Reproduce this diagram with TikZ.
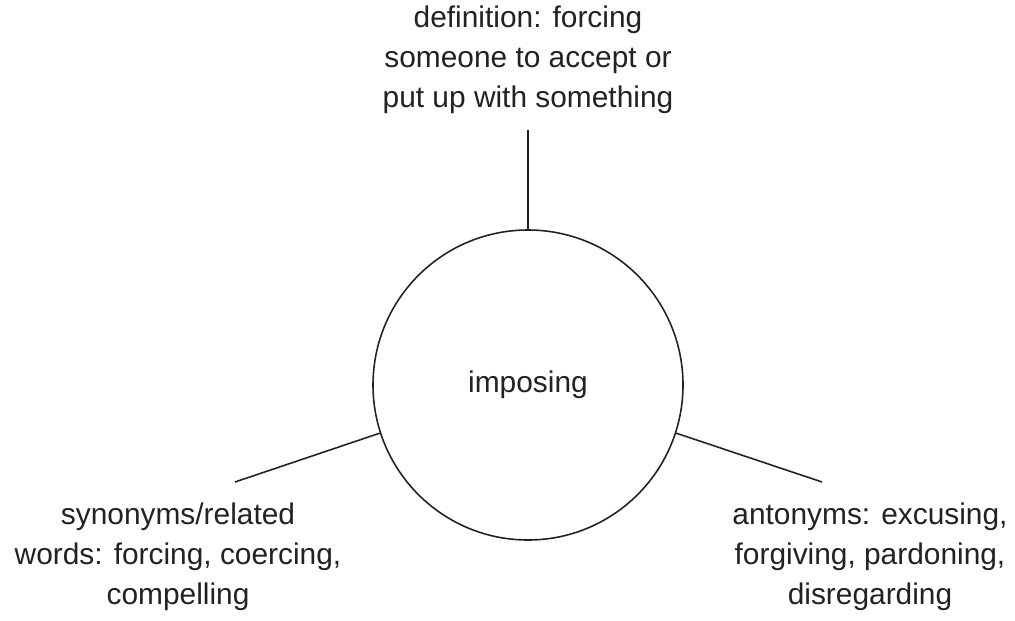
\documentclass[tikz,border=0pt]{standalone}
\usepackage{fontspec}
\setmainfont{Liberation Sans}
\usepackage{tikz}
\definecolor{ink}{HTML}{222222}

\begin{document}
\begin{tikzpicture}[font=\fontsize{17}{22.8}\selectfont, line width=0.9pt,
  label/.style={ink, align=center}]
  \useasboundingbox (0,0) rectangle (20.3,12.4);
  \node[draw=ink, circle, minimum size=6.2cm, inner sep=0pt, label] (word) at (10.56,4.7) {imposing};
  \node[label] (def) at (10.56,11.2) {definition: forcing\\someone to accept or\\put up with something};
  \node[label] (syn) at (3.56,1.26) {synonyms/related\\words: forcing, coercing,\\compelling};
  \node[label] (ant) at (17.4,1.26) {antonyms: excusing,\\forgiving, pardoning,\\disregarding};
  \coordinate (defend) at (10.56,9.8);
  \coordinate (synend) at (4.7,2.76);
  \coordinate (antend) at (16.44,2.76);
  \draw[ink] (word.north) -- (defend);
  \draw[ink] (word.198) -- (synend);
  \draw[ink] (word.342) -- (antend);
\end{tikzpicture}
\end{document}
